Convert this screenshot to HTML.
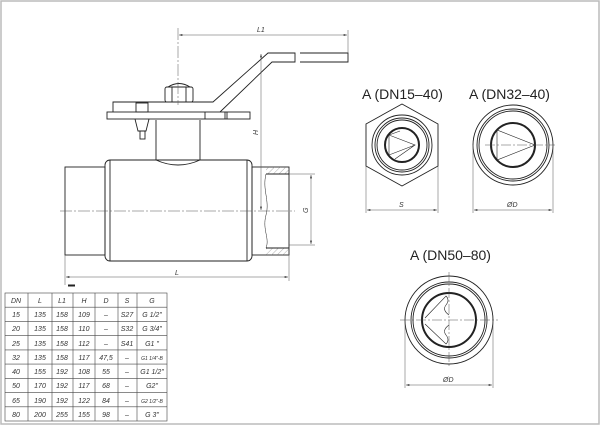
<!DOCTYPE html>
<html><head><meta charset="utf-8"><style>
html,body{margin:0;padding:0;background:#fff}
svg{display:block}
text{font-family:"Liberation Sans",sans-serif}
.t{font-style:italic;font-size:7px;fill:#333}
</style></head><body>
<svg width="600" height="425" viewBox="0 0 600 425" xmlns="http://www.w3.org/2000/svg">
<defs>
<marker id="a" viewBox="0 0 10 6" refX="10" refY="3" markerWidth="8" markerHeight="4" orient="auto-start-reverse"><path d="M0,0L10,3L0,6z" fill="#333"/></marker>
<pattern id="h" width="4" height="4" patternUnits="userSpaceOnUse" patternTransform="rotate(45)"><line x1="0" y1="0" x2="0" y2="4" stroke="#777" stroke-width="0.6"/></pattern>
</defs>
<rect x="1" y="1" width="598" height="423" fill="none" stroke="#bbb" stroke-width="1.5"/>
<g fill="none" stroke="#222" stroke-width="0.9">
<rect x="65" y="167" width="40" height="88"/>
<rect x="105" y="160" width="147" height="101" rx="5"/>
<line x1="110" y1="160" x2="110" y2="261"/><line x1="247" y1="160" x2="247" y2="261"/>
<rect x="252" y="167" width="37" height="88"/>
<rect x="266" y="167" width="23" height="7" fill="url(#h)" stroke="none"/>
<rect x="266" y="248" width="23" height="7" fill="url(#h)" stroke="none"/>
<line x1="266" y1="174" x2="289" y2="174"/><line x1="266" y1="248" x2="289" y2="248"/>
<path d="M266,174 C262,190 270,200 266,215 C262,230 270,238 266,248" stroke-width="0.5"/>
<path d="M156,120 L156,160 Q178,170 200,160 L200,120"/>
<rect x="107" y="112" width="143" height="7"/>
<line x1="205" y1="112" x2="205" y2="119"/><line x1="225" y1="112" x2="225" y2="119"/><line x1="227" y1="112" x2="227" y2="119"/>
<path d="M113,112 L113,102 L213,102 L268,53 L295,53 L295,62 L272,62 L220,112"/>
<path d="M300,53 L348,53 L348,62 L300,62"/>
<rect x="165" y="87" width="28" height="15" rx="2"/>
<path d="M168,87 Q179,80 190,87"/>
<line x1="172" y1="87" x2="172" y2="102"/><line x1="186" y1="87" x2="186" y2="102"/>
<rect x="136" y="103" width="12" height="9"/>
<path d="M135,119 L138,131 L146,131 L149,119"/>
<rect x="140" y="131" width="5" height="8"/>
</g>
<g stroke="#555" stroke-width="0.5" fill="none">
<line x1="60" y1="211" x2="295" y2="211" stroke-dasharray="12,2,2,2"/>
<line x1="178" y1="28" x2="178" y2="105" stroke-dasharray="12,2,2,2"/>
<line x1="65" y1="255" x2="65" y2="285"/><line x1="289" y1="255" x2="289" y2="281"/>
<line x1="66" y1="277" x2="288" y2="277" marker-start="url(#a)" marker-end="url(#a)"/>
<line x1="348" y1="30" x2="348" y2="53"/>
<line x1="179" y1="35" x2="347" y2="35" marker-start="url(#a)" marker-end="url(#a)"/>
<line x1="261" y1="54" x2="261" y2="210" marker-start="url(#a)" marker-end="url(#a)"/>
<line x1="289" y1="174" x2="315" y2="174"/><line x1="289" y1="245" x2="315" y2="245"/>
<line x1="311" y1="175" x2="311" y2="244" marker-start="url(#a)" marker-end="url(#a)"/>
</g>
<text class="t" x="175" y="275">L</text>
<text class="t" x="257" y="32">L1</text>
<text class="t" x="258" y="135" transform="rotate(-90 258 135)">H</text>
<text class="t" x="308" y="213" transform="rotate(-90 308 213)">G</text>
<g font-size="14" fill="#222">
<text x="362" y="99">A (DN15–40)</text>
<text x="469" y="99">A (DN32–40)</text>
<text x="410" y="260">A (DN50–80)</text>
</g>
<g fill="none" stroke="#222" stroke-width="0.9">
<polygon points="402,104 438,124 438,166 402,186 366,166 366,124"/>
<circle cx="402" cy="145" r="30"/><circle cx="402" cy="145" r="27"/><circle cx="402" cy="145" r="25"/>
<circle cx="402" cy="145" r="17" stroke-width="2"/>
<path d="M389,135 L389,155 L415,145 Z M389,135 L400,131 M395,159 L415,145" stroke-width="0.6"/>
<circle cx="513" cy="145" r="40"/><circle cx="513" cy="145" r="36"/><circle cx="513" cy="145" r="34"/>
<circle cx="513" cy="145" r="22" stroke-width="2"/>
<path d="M497,130 L497,160 L535,145 Z" stroke-width="0.6"/>
<circle cx="449" cy="320" r="44"/><circle cx="449" cy="320" r="38"/><circle cx="449" cy="320" r="36"/>
<circle cx="449" cy="320" r="27" stroke-width="2"/>
<path d="M425,318 L446,296 Q450,300 446,305 Q442,310 449,315 M425,324 L446,344 Q450,340 446,335 Q442,330 449,325" stroke-width="0.6"/>
</g>
<g stroke="#555" stroke-width="0.5" fill="none">
<line x1="485" y1="145" x2="555" y2="145" stroke-dasharray="10,2,2,2"/>
<line x1="400" y1="320" x2="498" y2="320" stroke-dasharray="10,2,2,2"/>
<line x1="449" y1="272" x2="449" y2="368" stroke-dasharray="10,2,2,2"/>
<line x1="366" y1="166" x2="366" y2="213"/><line x1="438" y1="166" x2="438" y2="213"/>
<line x1="367" y1="210" x2="437" y2="210" marker-start="url(#a)" marker-end="url(#a)"/>
<line x1="473" y1="145" x2="473" y2="213"/><line x1="553" y1="145" x2="553" y2="213"/>
<line x1="474" y1="210" x2="552" y2="210" marker-start="url(#a)" marker-end="url(#a)"/>
<line x1="405" y1="320" x2="405" y2="388"/><line x1="493" y1="320" x2="493" y2="388"/>
<line x1="406" y1="385" x2="492" y2="385" marker-start="url(#a)" marker-end="url(#a)"/>
</g>
<text class="t" x="399" y="207">S</text>
<text class="t" x="507" y="207">ØD</text>
<text class="t" x="443" y="382">ØD</text>
<rect x="3" y="289" width="166" height="134" fill="#fff"/>
<rect x="68" y="284.5" width="7" height="2" fill="#222"/>
<g stroke="#444" stroke-width="0.6" fill="none">
<rect x="5" y="293" width="162" height="128"/>
<line x1="28" y1="293" x2="28" y2="421"/><line x1="52" y1="293" x2="52" y2="421"/><line x1="73" y1="293" x2="73" y2="421"/><line x1="95" y1="293" x2="95" y2="421"/><line x1="118" y1="293" x2="118" y2="421"/><line x1="137" y1="293" x2="137" y2="421"/>
<line x1="5" y1="307.2" x2="167" y2="307.2"/><line x1="5" y1="321.4" x2="167" y2="321.4"/><line x1="5" y1="335.7" x2="167" y2="335.7"/><line x1="5" y1="349.9" x2="167" y2="349.9"/><line x1="5" y1="364.1" x2="167" y2="364.1"/><line x1="5" y1="378.3" x2="167" y2="378.3"/><line x1="5" y1="392.6" x2="167" y2="392.6"/><line x1="5" y1="406.8" x2="167" y2="406.8"/>
</g>
<g class="t" text-anchor="middle" font-size="7">
<text x="16" y="303">DN</text><text x="40" y="303">L</text><text x="62" y="303">L1</text><text x="84" y="303">H</text><text x="106" y="303">D</text><text x="127" y="303">S</text><text x="152" y="303">G</text>
<text x="16" y="317">15</text><text x="40" y="317">135</text><text x="62" y="317">158</text><text x="84" y="317">109</text><text x="106" y="317">–</text><text x="127" y="317">S27</text><text x="152" y="317">G 1/2"</text>
<text x="16" y="331">20</text><text x="40" y="331">135</text><text x="62" y="331">158</text><text x="84" y="331">110</text><text x="106" y="331">–</text><text x="127" y="331">S32</text><text x="152" y="331">G 3/4"</text>
<text x="16" y="346">25</text><text x="40" y="346">135</text><text x="62" y="346">158</text><text x="84" y="346">112</text><text x="106" y="346">–</text><text x="127" y="346">S41</text><text x="152" y="346">G1 "</text>
<text x="16" y="360">32</text><text x="40" y="360">135</text><text x="62" y="360">158</text><text x="84" y="360">117</text><text x="106" y="360">47,5</text><text x="127" y="360">–</text><text x="152" y="360" font-size="5">G1 1/4"-B</text>
<text x="16" y="374">40</text><text x="40" y="374">155</text><text x="62" y="374">192</text><text x="84" y="374">108</text><text x="106" y="374">55</text><text x="127" y="374">–</text><text x="152" y="374">G1 1/2"</text>
<text x="16" y="388">50</text><text x="40" y="388">170</text><text x="62" y="388">192</text><text x="84" y="388">117</text><text x="106" y="388">68</text><text x="127" y="388">–</text><text x="152" y="388">G2"</text>
<text x="16" y="403">65</text><text x="40" y="403">190</text><text x="62" y="403">192</text><text x="84" y="403">122</text><text x="106" y="403">84</text><text x="127" y="403">–</text><text x="152" y="403" font-size="5">G2 1/2"-B</text>
<text x="16" y="417">80</text><text x="40" y="417">200</text><text x="62" y="417">255</text><text x="84" y="417">155</text><text x="106" y="417">98</text><text x="127" y="417">–</text><text x="152" y="417">G 3"</text>
</g>
</svg>
</body></html>
